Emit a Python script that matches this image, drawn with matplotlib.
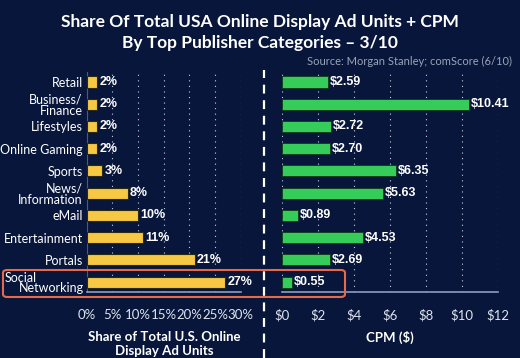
import matplotlib.pyplot as plt
from matplotlib.patches import FancyBboxPatch
from matplotlib.lines import Line2D
from matplotlib.transforms import blended_transform_factory

categories = ["Retail", "Business/\nFinance", "Lifestyles", "Online Gaming", "Sports",
              "News/\nInformation", "eMail", "Entertainment", "Portals", "Social\nNetworking"]
share = [2, 2, 2, 2, 3, 8, 10, 11, 21, 27]
cpm = [2.59, 10.41, 2.72, 2.70, 6.35, 5.63, 0.89, 4.53, 2.69, 0.55]
share_ticks = [0, 5, 10, 15, 20, 25, 30]
cpm_ticks = [0, 2, 4, 6, 8, 10, 12]

bg = "#07163a"
yellow = "#f7c843"
green = "#35cc5a"
label_font = ["Lato", "DejaVu Sans"]
num_font = ["Liberation Sans Narrow", "Liberation Sans", "DejaVu Sans"]

fig = plt.figure(figsize=(5.2, 3.58), dpi=100, facecolor=bg)

# positions: reversed so Retail is on top
ypos = list(range(len(categories)))[::-1]

ax1 = fig.add_axes([0.167, 0.184, 0.296, 0.615], facecolor=bg)
ax2 = fig.add_axes([0.542, 0.184, 0.415, 0.615], facecolor=bg)

ax1.barh(ypos, share, height=0.5, color=yellow, edgecolor="#2a2a10", linewidth=0.8, zorder=3)
for y, v in zip(ypos, share):
    ax1.text(v + 0.4, y, f"{v}%", color="white", fontsize=9, fontweight="bold",
             family=num_font, va="center", ha="left", zorder=4)
ax1.set_xlim(0, 30)
ax1.set_xticks(share_ticks)
ax1.set_xticklabels([f"{t}%" for t in share_ticks])
ax1.set_yticks(ypos)
# the boxed last label is drawn by hand below
ax1.set_yticklabels(categories[:-1] + [""], family=label_font, fontsize=9, color="white",
                    linespacing=0.95, multialignment="right")
ax1.set_xlabel("Share of Total U.S. Online\nDisplay Ad Units", color="white", fontsize=9.5,
               fontweight="bold", family=label_font, labelpad=7, linespacing=1.25)

# "Social" sits at the left edge of the box, "Networking" right-aligned to the axis
last = categories[-1].split("\n")
fig_y = blended_transform_factory(fig.transFigure, ax1.transData)
fig.text(5 / 520, ypos[-1] + 0.2, last[0], transform=fig_y,
         color="white", fontsize=9, family=label_font, ha="left", va="center")
ax1.text(-0.02, ypos[-1] - 0.25, last[1], transform=ax1.get_yaxis_transform(),
         color="white", fontsize=9, family=label_font, ha="right", va="center")

ax2.barh(ypos, cpm, height=0.5, color=green, edgecolor="#0e3a1a", linewidth=0.6, zorder=3)
for y, v in zip(ypos, cpm):
    ax2.text(v + 0.1, y, f"${v:.2f}", color="white", fontsize=9, fontweight="bold",
             family=num_font, va="center", ha="left", zorder=4)
ax2.set_xlim(0, 12)
ax2.set_xticks(cpm_ticks)
ax2.set_xticklabels([f"${t}" for t in cpm_ticks])
ax2.set_yticks([])
ax2.set_xlabel("CPM ($)", color="white", fontsize=9.5, fontweight="bold",
               family=label_font, labelpad=7)

for ax in (ax1, ax2):
    ax.set_ylim(-0.45, 9.45)
    ax.grid(axis="x", color="#c8d0e0", linestyle=(0, (1, 4)), linewidth=0.8, zorder=0)
    for s in ("top", "right", "left"):
        ax.spines[s].set_visible(False)
    ax.spines["bottom"].set_color("#8e9cbc")
    ax.spines["bottom"].set_linewidth(1.2)
    ax.tick_params(axis="x", colors="#dde3ee", labelsize=9.5, length=0, pad=12)
    ax.tick_params(axis="y", length=0, pad=3)
    for t in ax.get_xticklabels():
        t.set_family(label_font)
ax1.spines["left"].set_visible(True)
ax1.spines["left"].set_color("#4a5a80")
ax1.spines["left"].set_linewidth(0.8)

# dashed separator
fig.add_artist(Line2D([264 / 520, 264 / 520], [0, 1 - 70 / 358], color="white",
                      linewidth=1.6, linestyle=(0, (4, 3))))

# highlight box around Social Networking
fig.add_artist(FancyBboxPatch((3 / 520, 1 - 297 / 358), 342 / 520, 27 / 358,
                              boxstyle="round,pad=0,rounding_size=0.008",
                              facecolor="none", edgecolor="#e8684a", linewidth=1.5,
                              transform=fig.transFigure))

fig.text(0.5, 0.96, "Share Of Total USA Online Display Ad Units + CPM\nBy Top Publisher Categories \u2013 3/10",
         color="white", fontsize=12.5, fontweight="bold", family=label_font,
         ha="center", va="top", linespacing=1.35)
fig.text(0.985, 1 - 61 / 358, "Source: Morgan Stanley; comScore (6/10)", color="#9aa4b8",
         fontsize=8, family=label_font, ha="right", va="center")

fig.savefig("out.png", dpi=100, facecolor=bg)
